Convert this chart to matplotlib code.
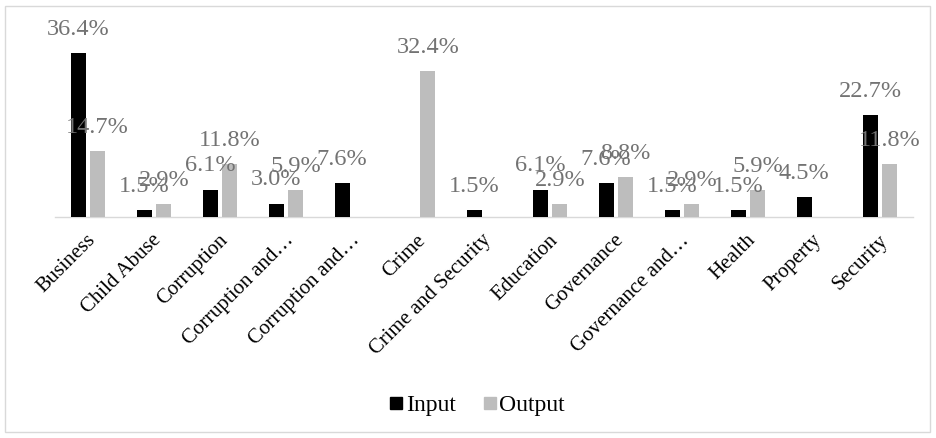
import matplotlib
matplotlib.use("Agg")
import matplotlib.pyplot as plt
import numpy as np
from matplotlib.patches import Rectangle
from matplotlib.lines import Line2D

categories = ["Business", "Child Abuse", "Corruption", "Corruption and…", "Corruption and…",
              "Crime", "Crime and Security", "Education", "Governance", "Governance and…",
              "Health", "Property", "Security"]
input_vals = [36.4, 1.5, 6.1, 3.0, 7.6, 0.0, 1.5, 6.1, 7.6, 1.5, 1.5, 4.5, 22.7]
output_vals = [14.7, 2.9, 11.8, 5.9, 0.0, 32.4, 0.0, 2.9, 8.8, 2.9, 5.9, 0.0, 11.8]
series_names = ["Input", "Output"]
colors = ["#000000", "#bdbdbd"]

plt.rcParams['font.family'] = ['Liberation Serif', 'DejaVu Serif']

fig = plt.figure(figsize=(9.37, 4.38), dpi=100)
ax = fig.add_axes([55/937, 1-217/438, (913-55)/937, (217-37)/438])

x = np.arange(len(categories))
w = 0.227
off = 0.148
for vals, dx, c in [(input_vals, -off, colors[0]), (output_vals, off, colors[1])]:
    bars = ax.bar(x + dx, vals, width=w, color=c, zorder=3)
    for b, v in zip(bars, vals):
        if v > 0:
            ax.annotate(f"{v:.1f}%", (b.get_x() + b.get_width()/2, v),
                        xytext=(0, 17), textcoords="offset points",
                        ha="center", va="center", fontsize=17.5, color="#737373", zorder=4)

ax.set_xlim(-0.5, len(categories) - 0.5)
ax.set_ylim(0, 40)
ax.set_yticks([])
for s in ["top", "right", "left"]:
    ax.spines[s].set_visible(False)
ax.spines["bottom"].set_color("#d9d9d9")
ax.spines["bottom"].set_linewidth(1.0)
ax.set_xticks(x - 0.03)
ax.set_xticklabels(categories, rotation=45, ha="right", rotation_mode="anchor", fontsize=15)
ax.tick_params(axis="x", length=0, pad=10)

handles = [Line2D([], [], marker="s", linestyle="", markersize=8, color=c) for c in colors]
fig.legend(handles, series_names, loc="center", bbox_to_anchor=(0.5 + 8/937, 1-405/438), ncol=2,
           frameon=False, fontsize=17, handletextpad=0.05, columnspacing=1.1, handlelength=0.7)

fig.patches.append(Rectangle((5/937, 6/438), 925/937, 426/438, transform=fig.transFigure,
                             fill=False, edgecolor="#d9d9d9", linewidth=1.0))

fig.savefig("out.png", dpi=100)
